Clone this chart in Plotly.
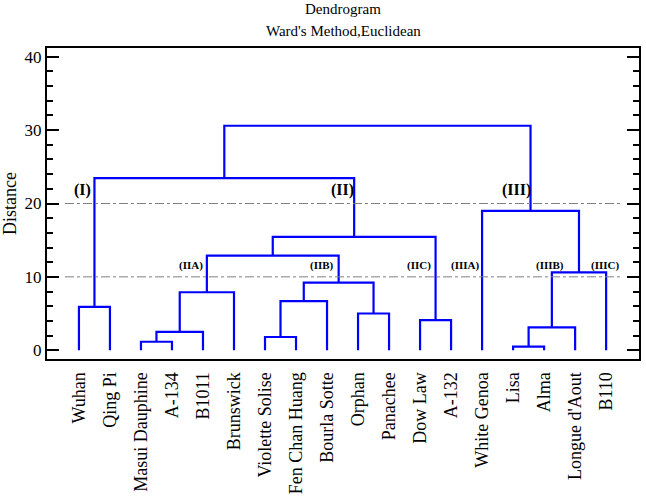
import plotly.graph_objects as go

# Leaf labels in dendrogram order
leaves = ["Wuhan", "Qing Pi", "Masui Dauphine", "A-134", "B1011", "Brunswick",
          "Violette Solise", "Fen Chan Huang", "Bourla Sotte", "Orphan", "Panachee",
          "Dow Law", "A-132", "White Genoa", "Lisa", "Alma", "Longue d'Aout", "B110"]

# Merges: node ids 0..17 are leaves, each merge creates node 18, 19, ...
merge_left = [0, 2, 19, 20, 6, 22, 9, 23, 21, 11, 26, 18, 14, 30, 31, 13, 29]
merge_right = [1, 3, 4, 5, 7, 8, 10, 24, 25, 12, 27, 28, 15, 16, 17, 32, 33]
merge_height = [5.9, 1.15, 2.5, 7.9, 1.8, 6.7, 5.0, 9.2, 12.9, 4.1, 15.45, 23.45,
                0.5, 3.1, 10.6, 19.0, 30.6]

# Cluster labels and where they sit
group_labels = ["(I)", "(II)", "(III)"]
group_x = [0.1, 8.5, 14.1]
group_y = [21.8, 21.8, 21.8]
sub_labels = ["(IIA)", "(IIB)", "(IIC)", "(IIIA)", "(IIIB)", "(IIIC)"]
sub_x = [3.6, 7.85, 10.95, 12.45, 15.2, 16.95]
sub_y = [11.6, 11.6, 11.6, 11.6, 11.6, 11.6]

cut_levels = [20, 10]

SERIF = "Liberation Serif"

# Build node positions (x = midpoint of children, y = merge height)
pos_x = list(range(len(leaves)))
pos_y = [0.0] * len(leaves)
xs, ys = [], []
for l, r, h in zip(merge_left, merge_right, merge_height):
    xl, yl = pos_x[l], pos_y[l]
    xr, yr = pos_x[r], pos_y[r]
    xs += [xl, xl, xr, xr, None]
    ys += [yl, h, h, yr, None]
    pos_x.append((xl + xr) / 2)
    pos_y.append(h)

fig = go.Figure()
for lvl in cut_levels:
    fig.add_shape(type="line", x0=-0.45, x1=17.5, y0=lvl, y1=lvl,
                  line=dict(color="#808080", width=1, dash="dashdot"))

fig.add_trace(go.Scatter(x=xs, y=ys, mode="lines",
                         line=dict(color="#0000ff", width=2.2), hoverinfo="skip"))

for t, x, y in zip(group_labels, group_x, group_y):
    fig.add_annotation(x=x, y=y, text="<b>%s</b>" % t, showarrow=False,
                       font=dict(family=SERIF, size=16, color="black"))
for t, x, y in zip(sub_labels, sub_x, sub_y):
    fig.add_annotation(x=x, y=y, text="<b>%s</b>" % t, showarrow=False,
                       font=dict(family=SERIF, size=11, color="black"))

fig.add_annotation(x=0.5, y=1.125, xref="paper", yref="paper", text="Dendrogram",
                   yanchor="middle", showarrow=False,
                   font=dict(family=SERIF, size=15, color="black"))
fig.add_annotation(x=0.5, y=1.056, xref="paper", yref="paper", text="Ward's Method,Euclidean",
                   yanchor="middle", showarrow=False,
                   font=dict(family=SERIF, size=15, color="black"))

fig.update_xaxes(range=[-1.03, 18.06], tickmode="array", tickvals=list(range(len(leaves))),
                 ticktext=leaves, tickangle=-90, ticks="", showgrid=False, zeroline=False,
                 showline=True, linecolor="black", linewidth=2, mirror=True,
                 ticklabelstandoff=4, automargin=False,
                 tickfont=dict(family=SERIF, size=18, color="black"))
fig.update_yaxes(range=[-1.2, 41.2], tickvals=[0, 10, 20, 30, 40], ticks="inside",
                 ticklen=12, tickwidth=2, tickcolor="black",
                 minor=dict(dtick=2, ticks="inside", ticklen=6, tickwidth=1.5, tickcolor="black"),
                 showgrid=False, zeroline=False, showline=True, linecolor="black",
                 linewidth=2, mirror="allticks", automargin=False,
                 title=dict(text="Distance", standoff=8,
                            font=dict(family=SERIF, size=18, color="black")),
                 tickfont=dict(family=SERIF, size=17, color="black"))

fig.update_layout(width=646, height=499, showlegend=False,
                  plot_bgcolor="white", paper_bgcolor="white",
                  margin=dict(l=47, r=7, t=48, b=140))

# drop the browser's default 8px page margin so the figure sits at 0,0
fig.write_html("out.html", config={"displayModeBar": False},
               post_script="document.body.style.margin='0';")
